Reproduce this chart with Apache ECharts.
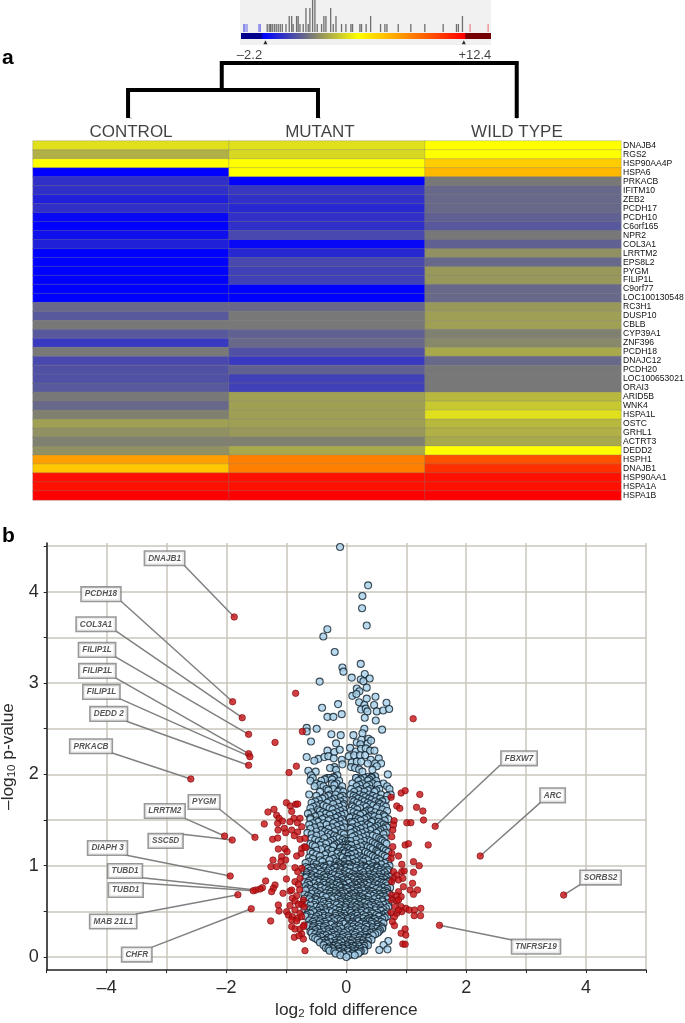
<!DOCTYPE html>
<html>
<head>
<meta charset="utf-8">
<title>Heat map and volcano plot</title>
<script src="https://cdn.jsdelivr.net/npm/echarts@6/dist/echarts.min.js"></script>
<style>
    html, body { margin: 0; padding: 0; background: #fff; }
    #chart { width: 685px; height: 1023px; }
</style>
</head>
<body>
<div id="chart"></div>
<script>
// --- panel a: histogram above the colour scale ---
const histValues = [-3.8, -3.71, -3.56, -2.68, -2.58, -2.07, -1.92, -1.82, -1.7, -1.55, -1.41, -1.26, -1.11, -0.96,
    -0.69, -0.45, -0.27, -0.16, 0.09, 0.21, 0.34, 0.58, 0.78, 0.95, 1.07, 1.27, 1.44, 1.61, 1.93, 2.1, 2.25, 2.6,
    2.79, 2.99, 3.4, 3.72, 4.09, 4.21, 4.75, 4.87, 5.21, 5.54, 6.27, 6.59, 6.74, 7.57, 8.5, 9.53, 10.88, 11.86, 12,
    12.3, 12.86, 14.19];
const histCounts = [1, 1, 1, 1, 1, 1, 1, 1, 1, 1, 1, 1, 1, 1,
    1, 2, 2, 1, 2, 2, 1, 1, 3, 1, 3, 4, 5, 1, 1, 2, 2, 3,
    1, 2, 1, 1, 1, 1, 1, 1, 1, 2, 1, 1, 1, 1, 1, 1, 1, 1, 1,
    2, 1, 1];
const scaleRange = [-4, 14.4];
const scaleThresholds = [-2.2, 12.4];
const scaleThresholdLabels = ["–2.2", "+12.4"];

// --- panel a: dendrogram ---
const dendroInner = [[0.485, 0], [0.485, 0.51], [1.454, 0.51], [1.454, 0]];
const dendroOuter = [[0.963, 0.51], [0.963, 1], [2.468, 1], [2.468, 0]];
const groupNames = ["CONTROL", "MUTANT", "WILD TYPE"];
const groupNamePlaces = [0.5, 1.464, 2.469];

// --- panel a: heat map ---
const genes = ["DNAJB4", "RGS2", "HSP90AA4P", "HSPA6", "PRKACB", "IFITM10", "ZEB2", "PCDH17", "PCDH10", "C6orf165",
    "NPR2", "COL3A1", "LRRTM2", "EPS8L2", "PYGM", "FILIP1L", "C9orf77", "LOC100130548", "RC3H1", "DUSP10",
    "CBLB", "CYP39A1", "ZNF396", "PCDH18", "DNAJC12", "PCDH20", "LOC100653021", "ORAI3", "ARID5B", "WNK4",
    "HSPA1L", "OSTC", "GRHL1", "ACTRT3", "DEDD2", "HSPH1", "DNAJB1", "HSP90AA1", "HSPA1A", "HSPA1B"];
const controlValues = [4.26, 2.96, 5.1, -2.2, -0.74, -0.74, -1.23, -0.74, -1.96, -2.2,
    -1.71, -1.23, -2.2, -2.2, -2.2, -2.2, -2.2, -2.2, 0.96, 0.48,
    1.45, 0.48, -0.5, 1.45, -0.01, 0.23, 0.23, 0.48, 1.45, 0.96,
    1.67, 2.53, 2.1, 1.67, 2.1, 7.83, 6.68, 11.94, 11.94, 12.4];
const mutantValues = [4.26, 4.05, 5.1, 5.1, -2.2, -0.5, -0.74, -0.98, -0.74, -0.74,
    -0.01, -1.96, -0.98, -0.01, -0.25, -0.25, -2.2, -2.2, 0.96, 1.45,
    1.45, 0.72, 0.96, 0.23, -0.5, 0.72, -0.25, -0.25, 2.53, 2.53,
    2.53, 2.53, 2.32, 1.67, 2.75, 8.75, 8.75, 11.94, 11.94, 12.4];
const wildTypeValues = [5.1, 5.1, 6.57, 7.14, 1.45, 0.96, 0.96, 0.96, 0.72, 0.48,
    1.45, 0.72, 2.1, 0.96, 2.32, 2.32, 0.96, 0.96, 2.32, 2.53,
    2.53, 1.67, 1.88, 2.75, 0.96, 1.45, 1.45, 1.45, 3.18, 3.61,
    4.26, 3.18, 2.96, 2.75, 5.1, 10.12, 11.03, 11.94, 11.94, 12.4];

// --- panel b: the scattered blue points above the dense part, [log2 fold, -log10 p] ---
const blueSparse = [[-0.105, 4.49], [0.363, 4.07], [0.268, 3.954], [0.262, 3.82], [0.34, 3.63], [-0.317, 3.59], [-0.384, 3.51],
    [-0.194, 3.34], [-0.066, 3.17], [-0.049, 3.125], [0.24, 3.21], [0.09, 3.06], [0.307, 3.1], [0.24, 3.04], [0.285, 3.02],
    [0.39, 3.05], [-0.445, 3.016], [0.174, 2.94], [0.218, 2.91], [0.34, 2.95], [0.1, 2.86], [0.168, 2.88], [0.486, 2.85],
    [0.34, 2.83], [-0.138, 2.77], [0.213, 2.79], [0.463, 2.76], [0.67, 2.785], [0.3, 2.76], [-0.405, 2.73], [0.246, 2.71],
    [0.324, 2.72], [0.352, 2.69], [0.508, 2.69], [0.614, 2.7], [0.714, 2.716], [-0.077, 2.66], [-0.316, 2.63], [-0.216, 2.63],
    [0.307, 2.62], [0.491, 2.59], [-0.662, 2.51], [-0.662, 2.47], [-0.495, 2.5], [0.3, 2.5], [0.597, 2.49], [-0.25, 2.44],
    [-0.094, 2.43], [0.118, 2.43], [0.268, 2.45], [-0.59, 2.36], [-0.172, 2.34], [0.174, 2.35], [0.252, 2.38], [0.369, 2.39],
    [0.235, 2.33], [0.357, 2.34], [0.413, 2.37], [-0.316, 2.26], [-0.2, 2.245], [-0.11, 2.27], [0.062, 2.29], [0.157, 2.25],
    [0.246, 2.28], [0.324, 2.285], [0.396, 2.26], [0.469, 2.26], [0.04, 2.2], [0.129, 2.21], [0.229, 2.21], [0.313, 2.21],
    [-0.662, 2.19], [-0.467, 2.17], [-0.534, 2.15], [-0.367, 2.19], [-0.3, 2.2], [-0.211, 2.176], [-0.077, 2.16], [-0.066, 2.11],
    [0.408, 2.16], [0.541, 2.176], [0.09, 2.13], [0.174, 2.14], [0.246, 2.14], [0.357, 2.12], [0.48, 2.12], [0.58, 2.12],
    [0.508, 2.09], [-0.2, 2.08], [-0.272, 2.07], [-0.172, 2.05], [0.079, 2.08], [0.146, 2.07], [0.213, 2.055], [0.435, 2.05],
    [0.692, 2], [-0.634, 2.04], [-0.511, 2.03], [-0.589, 1.99], [-0.15, 1.99], [0.174, 1.96], [0.369, 1.975], [0.48, 1.98],
    [-0.322, 1.96], [-0.216, 1.97], [0.268, 2.03], [0.424, 1.97], [0.7, 0.176], [0.62, 0.132], [0.55, 0.077], [0.686, 0.084]];

// --- panel b: the dense blue cloud, one row per -log10 p level: [p, fold, fold, ...] ---
const blueRows = [
    [1.96, -0.56, -0.28, -0.2, 0.16, 0.3, 0.42],
    [1.945, -0.36, -0.24, 0.24, 0.38],
    [1.93, -0.6, -0.42, -0.12, 0.2, 0.36, 0.5],
    [1.9, -0.5, -0.24, -0.16, 0.1, 0.27, 0.44, 0.62],
    [1.885, -0.44, -0.2, 0.22, 0.38, 0.52],
    [1.87, -0.53, -0.38, -0.07, 0.17, 0.34, 0.68],
    [1.84, -0.33, -0.22, 0.08, 0.24, 0.4, 0.55, 0.72],
    [1.825, -0.3, -0.1, 0.2, 0.36, 0.5],
    [1.81, -0.44, -0.14, -0.05, 0.13, 0.3, 0.47],
    [1.78, -0.62, -0.27, -0.18, 0.07, 0.22, 0.38, 0.58, 0.74],
    [1.765, -0.5, -0.3, -0.06, 0.12, 0.28, 0.44, 0.68],
    [1.75, -0.36, -0.1, 0.16, 0.32, 0.5],
    [1.735, -0.4, -0.2, 0.2, 0.38, 0.56],
    [1.72, -0.46, -0.24, -0.04, 0.1, 0.26, 0.42, 0.66],
    [1.705, -0.52, -0.28, -0.1, 0.13, 0.3, 0.48, 0.6],
    [1.69, -0.58, -0.32, -0.15, 0.18, 0.36, 0.54],
    [1.675, -0.43, -0.22, -0.04, 0.22, 0.4, 0.56],
    [1.66, -0.5, -0.38, -0.06, 0.09, 0.29, 0.45, 0.62],
    [1.645, -0.55, -0.33, -0.12, 0.1, 0.33, 0.52, 0.66],
    [1.63, -0.6, -0.28, -0.18, 0.14, 0.23, 0.5],
    [1.615, -0.47, -0.23, -0.05, 0.18, 0.38, 0.6],
    [1.6, -0.44, -0.1, 0.07, 0.34, 0.41, 0.68],
    [1.585, -0.58, -0.39, -0.16, 0.12, 0.31, 0.48],
    [1.57, -0.64, -0.34, -0.22, -0.03, 0.18, 0.28, 0.56],
    [1.555, -0.44, -0.28, -0.08, 0.23, 0.42, 0.62],
    [1.54, -0.52, -0.14, 0.1, 0.38, 0.47, 0.64],
    [1.525, -0.6, -0.36, -0.18, 0.06, 0.16, 0.34, 0.54],
    [1.51, -0.6, -0.4, -0.26, -0.07, 0.2, 0.3, 0.7],
    [1.495, -0.5, -0.3, -0.1, 0.24, 0.46, 0.64],
    [1.48, -0.47, -0.18, 0.08, 0.14, 0.42, 0.54],
    [1.465, -0.56, -0.38, -0.22, -0.04, 0.1, 0.32, 0.58],
    [1.45, -0.62, -0.33, -0.11, 0.25, 0.36, 0.62],
    [1.435, -0.44, -0.16, 0.18, 0.4, 0.52, 0.66],
    [1.42, -0.53, -0.24, -0.03, 0.1, 0.3, 0.48, 0.68],
    [1.405, -0.6, -0.3, -0.08, 0.07, 0.24, 0.44, 0.62],
    [1.39, -0.42, -0.15, 0.17, 0.4, 0.57],
    [1.375, -0.5, -0.36, -0.2, 0.13, 0.32, 0.54],
    [1.36, -0.65, -0.3, -0.08, 0.08, 0.26, 0.5, 0.66],
    [1.345, -0.58, -0.42, -0.26, -0.04, 0.2, 0.4, 0.62],
    [1.33, -0.5, -0.2, 0.14, 0.34, 0.44],
    [1.315, -0.32, -0.16, 0.1, 0.28, 0.5],
    [1.3, -0.58, -0.37, -0.12, -0.03, 0.22, 0.55, 0.64],
    [1.285, -0.52, -0.22, -0.06, 0.16, 0.36, 0.58],
    [1.27, -0.46, -0.26, -0.01, 0.03, 0.07, 0.3, 0.4, 0.6],
    [1.255, -0.4, -0.3, -0.12, 0.24, 0.44, 0.64],
    [1.24, -0.6, -0.34, -0.16, 0.02, 0.16, 0.48, 0.67],
    [1.225, -0.56, -0.44, -0.2, -0.04, 0.04, 0.08, 0.3, 0.52],
    [1.21, -0.52, -0.22, -0.08, 0.24, 0.36, 0.56],
    [1.195, -0.36, -0.1, -0.02, 0.03, 0.18, 0.4, 0.58],
    [1.18, -0.42, -0.3, 0.06, 0.12, 0.44, 0.62],
    [1.165, -0.5, -0.24, -0.06, 0.1, 0.26, 0.5, 0.66],
    [1.15, -0.6, -0.14, -0.02, 0.2, 0.32, 0.52, 0.7],
    [1.135, -0.56, -0.32, -0.16, -0.03, 0.04, 0.14, 0.36, 0.54],
    [1.12, -0.5, -0.36, -0.24, 0.08, 0.4, 0.6],
    [1.105, -0.44, -0.1, 0.02, 0.22, 0.44, 0.64],
    [1.09, -0.62, -0.18, -0.06, 0.16, 0.28, 0.48, 0.68],
    [1.075, -0.56, -0.34, -0.22, 0, 0.05, 0.1, 0.32, 0.52],
    [1.06, -0.44, -0.28, 0.02, 0.22, 0.36, 0.56],
    [1.045, -0.62, -0.4, -0.16, -0.04, 0.16, 0.28, 0.5, 0.7],
    [1.03, -0.68, -0.54, -0.12, 0.1, 0.44, 0.64],
    [1.015, -0.5, -0.28, -0.1, -0.02, 0.06, 0.04, 0.24, 0.38, 0.58],
    [1, -0.36, -0.2, -0.04, 0.18, 0.3, 0.5, 0.72],
    [0.993, -0.42, -0.14, 0.08, 0.26, 0.44],
    [0.985, -0.68, -0.54, -0.38, -0.18, -0.02, 0.12, 0.32, 0.5, 0.66],
    [0.977, -0.58, -0.34, -0.18, 0, 0.16, 0.34, 0.52],
    [0.97, -0.64, -0.48, -0.28, -0.1, 0.06, 0.24, 0.4, 0.58],
    [0.955, -0.46, -0.24, -0.08, 0.2, 0.38, 0.56, 0.7],
    [0.948, -0.6, -0.3, -0.02, 0.24, 0.44, 0.62],
    [0.94, -0.7, -0.54, -0.38, -0.16, 0, 0.14, 0.32, 0.5, 0.68],
    [0.932, -0.42, -0.18, 0.06, 0.36, 0.56],
    [0.925, -0.66, -0.52, -0.32, -0.12, 0.04, 0.28, 0.48, 0.64],
    [0.91, -0.6, -0.44, -0.24, -0.06, 0.1, 0.22, 0.42, 0.6],
    [0.903, -0.66, -0.34, -0.12, 0.18, 0.38, 0.54],
    [0.895, -0.56, -0.38, -0.2, -0.02, 0.14, 0.3, 0.46, 0.68],
    [0.88, -0.66, -0.5, -0.32, -0.14, 0.04, 0.18, 0.36, 0.54, 0.72],
    [0.872, -0.58, -0.36, -0.04, 0.13, 0.3, 0.48, 0.66],
    [0.865, -0.68, -0.44, -0.26, -0.08, 0.08, 0.24, 0.42, 0.6],
    [0.85, -0.56, -0.4, -0.2, -0.02, 0.12, 0.28, 0.46, 0.64],
    [0.843, -0.46, -0.24, -0.06, 0.22, 0.4, 0.58],
    [0.835, -0.62, -0.5, -0.34, -0.14, 0.02, 0.18, 0.36, 0.52, 0.72],
    [0.82, -0.7, -0.46, -0.28, -0.1, 0.08, 0.24, 0.4, 0.58, 0.7],
    [0.812, -0.64, -0.38, -0.14, 0.04, 0.2, 0.36, 0.62],
    [0.805, -0.54, -0.24, -0.06, 0.14, 0.3, 0.48, 0.66],
    [0.79, -0.62, -0.36, -0.18, -0.04, 0.16, 0.32, 0.52],
    [0.783, -0.48, -0.26, -0.1, 0.1, 0.24, 0.44, 0.68],
    [0.775, -0.68, -0.44, -0.3, -0.12, 0.08, 0.26, 0.38, 0.58],
    [0.76, -0.52, -0.42, -0.24, -0.08, 0.02, 0.2, 0.44, 0.62, 0.73],
    [0.752, -0.64, -0.32, -0.02, 0.12, 0.28, 0.54],
    [0.745, -0.6, -0.36, -0.18, 0, 0.16, 0.34, 0.5, 0.68],
    [0.73, -0.68, -0.56, -0.3, -0.14, 0.1, 0.28, 0.38, 0.56],
    [0.722, -0.44, -0.2, -0.04, 0.18, 0.4, 0.66],
    [0.715, -0.52, -0.26, -0.08, 0.04, 0.22, 0.44, 0.62],
    [0.7, -0.48, -0.34, -0.2, -0.03, 0.14, 0.34, 0.5, 0.68],
    [0.693, -0.58, -0.28, -0.08, 0.08, 0.24, 0.46, 0.62],
    [0.685, -0.7, -0.44, -0.14, 0.1, 0.3, 0.4, 0.56, 0.72],
    [0.67, -0.64, -0.4, -0.26, -0.1, 0.06, 0.22, 0.44, 0.62],
    [0.662, -0.5, -0.3, -0.14, 0.02, 0.18, 0.36, 0.58],
    [0.655, -0.6, -0.34, -0.2, -0.04, 0.14, 0.26, 0.5, 0.66],
    [0.64, -0.7, -0.52, -0.16, 0, 0.18, 0.3, 0.54, 0.72],
    [0.632, -0.62, -0.24, -0.06, 0.12, 0.28, 0.46, 0.68],
    [0.625, -0.5, -0.4, -0.1, 0.06, 0.22, 0.36, 0.6],
    [0.61, -0.58, -0.44, -0.3, -0.06, 0.1, 0.26, 0.4, 0.6],
    [0.602, -0.38, -0.1, 0.06, 0.22, 0.34, 0.52],
    [0.595, -0.7, -0.52, -0.28, -0.16, 0, 0.14, 0.3, 0.44, 0.7],
    [0.58, -0.66, -0.36, -0.22, -0.12, 0.04, 0.2, 0.36, 0.5, 0.66],
    [0.572, -0.54, -0.3, -0.16, 0, 0.18, 0.44, 0.62],
    [0.565, -0.6, -0.42, -0.08, 0.1, 0.24, 0.4, 0.56],
    [0.55, -0.5, -0.28, -0.02, 0.14, 0.3, 0.46, 0.7],
    [0.542, -0.44, -0.12, 0.08, 0.24, 0.38, 0.58],
    [0.535, -0.66, -0.36, -0.22, -0.02, 0.18, 0.32, 0.5, 0.66],
    [0.52, -0.7, -0.6, -0.42, -0.18, -0.08, 0.08, 0.24, 0.56, 0.62],
    [0.512, -0.56, -0.34, -0.02, 0.14, 0.3, 0.48],
    [0.505, -0.48, -0.28, -0.12, 0.06, 0.26, 0.38, 0.58],
    [0.49, -0.54, -0.34, -0.24, 0.02, 0.18, 0.34, 0.42, 0.68],
    [0.482, -0.64, -0.44, -0.1, 0.08, 0.24, 0.52],
    [0.475, -0.6, -0.4, -0.18, -0.04, 0.16, 0.44, 0.64],
    [0.46, -0.66, -0.46, -0.12, 0.12, 0.28, 0.5, 0.6],
    [0.452, -0.36, -0.18, -0.02, 0.18, 0.38, 0.56],
    [0.445, -0.68, -0.5, -0.3, -0.08, 0.08, 0.32, 0.54, 0.68],
    [0.43, -0.58, -0.38, -0.2, -0.04, 0.06, 0.22, 0.4, 0.64],
    [0.422, -0.52, -0.3, -0.08, 0.12, 0.28, 0.46],
    [0.415, -0.44, -0.24, -0.14, 0.02, 0.18, 0.36, 0.48, 0.6],
    [0.4, -0.62, -0.5, -0.3, -0.1, 0.16, 0.34, 0.54],
    [0.392, -0.44, -0.2, 0.02, 0.2, 0.38, 0.5],
    [0.385, -0.56, -0.36, -0.06, 0.1, 0.28, 0.42, 0.58],
    [0.37, -0.42, -0.24, -0.02, 0.1, 0.26, 0.46, 0.62],
    [0.362, -0.54, -0.34, -0.04, 0.08, 0.24, 0.42],
    [0.355, -0.62, -0.46, -0.26, -0.12, 0.14, 0.32, 0.52],
    [0.34, -0.64, -0.54, -0.34, -0.16, 0.04, 0.2, 0.38, 0.56],
    [0.332, -0.44, -0.12, 0.1, 0.34, 0.52],
    [0.325, -0.56, -0.38, -0.2, 0.02, 0.24, 0.44, 0.6],
    [0.31, -0.48, -0.28, -0.08, 0.14, 0.3, 0.5, 0.6],
    [0.302, -0.56, -0.38, -0.18, 0.04, 0.2, 0.42],
    [0.295, -0.52, -0.32, -0.14, 0.08, 0.34, 0.56],
    [0.28, -0.6, -0.38, -0.2, 0, 0.22, 0.42, 0.54],
    [0.272, -0.5, -0.3, -0.1, 0.12, 0.32, 0.46],
    [0.265, -0.58, -0.44, -0.24, -0.04, 0.16, 0.4, 0.52],
    [0.25, -0.52, -0.3, -0.12, 0.08, 0.28, 0.36, 0.48],
    [0.242, -0.4, -0.2, -0.06, 0.14, 0.32],
    [0.235, -0.46, -0.34, -0.16, 0.02, 0.24, 0.44],
    [0.22, -0.56, -0.42, -0.22, -0.04, 0.16, 0.34],
    [0.212, -0.48, -0.3, -0.12, 0.04, 0.22, 0.36],
    [0.205, -0.52, -0.26, -0.08, 0.12, 0.3, 0.38],
    [0.19, -0.48, -0.34, -0.14, 0.06, 0.24, 0.42],
    [0.182, -0.36, -0.1, 0.1, 0.28],
    [0.175, -0.4, -0.2, -0.02, 0.18, 0.36],
    [0.16, -0.44, -0.26, -0.08, 0.12, 0.3],
    [0.152, -0.36, -0.18, 0.04, 0.2],
    [0.145, -0.32, -0.12, 0.08, 0.26, 0.34],
    [0.13, -0.38, -0.18, 0, 0.2, 0.36],
    [0.122, -0.22, -0.06, 0.1, 0.3],
    [0.115, -0.28, -0.14, 0.02, 0.14, 0.22],
    [0.1, -0.34, -0.24, -0.06, 0.08, 0.28],
    [0.092, -0.3, -0.12, 0.02, 0.18],
    [0.085, -0.22, -0.04, 0.12, 0.24],
    [0.07, -0.28, -0.14, 0.02, 0.16, 0.3],
    [0.062, -0.2, -0.08, 0.1, 0.24],
    [0.055, -0.12, 0.04, 0.22],
    [0.04, -0.18, -0.06, 0.1, 0.2],
    [0.03, -0.04, 0.1],
    [0.02, -0.1, 0.04, 0.14],
    [0, 0]
];

// --- panel b: the red points without a call-out ---
const redPoints = [[1.115, 2.61], [-0.846, 2.888], [-0.734, 2.47], [-1.19, 2.35], [-0.834, 2.09], [-0.957, 2.02],
    [-1, 1.69], [-0.935, 1.654], [-0.846, 1.672], [-0.812, 1.676], [-1.207, 1.617], [-1.308, 1.588], [-0.912, 1.595],
    [-1.163, 1.552], [-1.124, 1.519], [-1.068, 1.49], [-1.146, 1.464], [-0.873, 1.519], [-0.773, 1.519], [-0.94, 1.482],
    [-0.818, 1.471], [-0.745, 1.427], [-1.37, 1.457], [-1.14, 1.39], [-1.035, 1.409], [-1.013, 1.362], [-0.912, 1.39],
    [-0.812, 1.369], [-0.868, 1.329], [-1.23, 1.289], [-1.146, 1.303], [-0.773, 1.289], [-0.69, 1.3], [-1.135, 1.183],
    [-1.024, 1.186], [-0.99, 1.154], [-0.7, 1.208], [-0.745, 1.186], [-0.68, 1.2], [-0.756, 1.135], [-0.829, 1.106],
    [-1.224, 1.062], [-1.08, 1.099], [-1.013, 1.062], [-1.09, 1.048], [-1.258, 0.99], [-1.163, 0.99], [-1.057, 0.99],
    [-0.857, 0.979], [-0.745, 0.971], [-0.812, 0.935], [-0.773, 0.862], [-0.857, 0.825], [-0.801, 0.796], [-1, 0.855],
    [-1.19, 0.789], [-1.219, 0.752], [-1.247, 0.716], [-1.347, 0.833], [-1.057, 0.698], [-0.94, 0.723], [-0.912, 0.734],
    [-0.779, 0.738], [-0.829, 0.672], [-0.901, 0.643], [-0.717, 0.625], [-0.857, 0.614], [-0.801, 0.577], [-0.94, 0.563],
    [-0.745, 0.577], [-0.706, 0.552], [-1.135, 0.57], [-1.124, 0.504], [-0.996, 0.497], [-0.968, 0.46], [-0.857, 0.515],
    [-0.773, 0.479], [-0.901, 0.442], [-0.812, 0.424], [-0.912, 0.406], [-0.829, 0.395], [-0.745, 0.442], [-1.263, 0.395],
    [-0.706, 0.351], [-0.912, 0.333], [-0.857, 0.307], [-0.773, 0.307], [-0.717, 0.333], [-0.745, 0.252], [-0.868, 0.216],
    [-0.79, 0.234], [-0.717, 0.197], [-0.69, 0.07], [-1.4, 0.76], [-1.44, 0.745],
    [0.914, 1.796], [0.981, 1.822], [1.226, 1.781], [0.747, 1.749], [0.842, 1.654], [0.892, 1.628], [1.171, 1.639],
    [1.277, 1.599], [1.288, 1.5], [0.797, 1.493], [1.009, 1.471], [1.076, 1.471], [0.786, 1.446], [0.775, 1.391],
    [0.758, 1.318], [0.981, 1.227], [1.037, 1.241], [1.366, 1.227], [0.775, 1.208], [0.758, 1.135], [0.87, 1.106],
    [0.747, 1.08], [1.12, 1.044], [0.925, 1.015], [1.215, 1], [0.786, 0.935], [0.842, 0.898], [0.925, 0.935], [0.964, 0.942],
    [0.786, 0.862], [0.87, 0.844], [0.942, 0.862], [1.12, 0.928], [1.104, 0.807], [1.065, 0.734], [1.187, 0.734],
    [1.12, 0.687], [0.953, 0.771], [0.758, 0.825], [0.87, 0.716], [0.758, 0.68], [0.842, 0.672], [0.914, 0.661],
    [0.758, 0.625], [0.842, 0.614], [0.914, 0.552], [0.992, 0.533], [1.048, 0.515], [1.137, 0.515], [1.243, 0.533],
    [1.132, 0.453], [1.238, 0.453], [0.925, 0.497], [0.842, 0.479], [0.803, 0.442], [0.747, 0.486], [0.77, 0.387],
    [0.803, 0.344], [0.981, 0.307], [0.914, 0.26], [0.992, 0.241], [0.942, 0.143], [0.981, 0.139], [0.87, 0.625],
    [0.814, 0.552], [0.87, 0.515]];

// --- panel b: the named genes ---
const calloutNames = ["DNAJB1", "PCDH18", "COL3A1", "FILIP1L", "FILIP1L", "FILIP1L", "DEDD 2", "PRKACB", "PYGM", "LRRTM2",
    "SSC5D", "DIAPH 3", "TUBD1", "TUBD1", "MAB 21L1", "CHFR", "FBXW7", "ARC", "SORBS2", "TNFRSF19"];
const calloutPoints = [[-1.871, 3.724], [-1.898, 2.796], [-1.738, 2.621], [-1.631, 2.439], [-1.631, 2.227], [-1.609, 2.194],
    [-1.631, 2.1], [-2.595, 1.95], [-1.525, 1.311], [-2.032, 1.325], [-1.905, 1.281], [-1.938, 0.887], [-1.509, 0.734],
    [-1.554, 0.726], [-1.81, 0.682], [-1.587, 0.529], [1.482, 1.432], [2.234, 1.106], [3.626, 0.679], [1.554, 0.347]];
// where each label box sits and where its leader leaves the box, in the same axis units
const calloutBoxes = [[-3.033, 4.367], [-4.094, 3.974], [-4.177, 3.644], [-4.16, 3.363], [-4.154, 3.133], [-4.087, 2.903],
    [-3.965, 2.662], [-4.261, 2.308], [-2.373, 1.698], [-3.029, 1.599], [-3.016, 1.271], [-3.985, 1.194], [-3.693, 0.942],
    [-3.681, 0.734], [-3.89, 0.389], [-3.497, 0.027], [2.882, 2.176], [3.442, 1.771], [4.242, 0.87], [3.165, 0.113]];
const calloutStarts = [[-2.712, 4.293], [-3.764, 3.899], [-3.848, 3.571], [-3.86, 3.289], [-3.86, 3.059], [-3.793, 2.833],
    [-3.681, 2.585], [-3.92, 2.238], [-2.122, 1.621], [-2.695, 1.519], [-2.733, 1.344], [-3.686, 1.117], [-3.409, 0.869],
    [-3.392, 0.807], [-3.514, 0.471], [-3.251, 0.106], [2.568, 2.103], [3.241, 1.694], [3.905, 0.796], [2.769, 0.186]];

const xTicks = [-4, -2, 0, 2, 4];
const yLabelTicks = [0, 1, 2, 3, 4];
const yGridTicks = [0, 0.5, 1, 1.5, 2, 2.5, 3, 3.5, 4, 4.5];

const fontName = "Liberation Sans";
const colorText = "#2b2b2b";
const colorGrid = "#c9c6bc";
const colorLeader = "#808080";

const heatRows = [];
[controlValues, mutantValues, wildTypeValues].forEach((values, col) => {
    values.forEach((value, row) => heatRows.push([col, row, value]));
});

const bluePoints = blueSparse.slice();
blueRows.forEach(row => {
    row.slice(1).forEach(fold => bluePoints.push([fold, row[0]]));
});

const leaderSeries = calloutNames.map((name, i) => ({
    name: "leader " + name,
    type: "line",
    xAxisIndex: 4,
    yAxisIndex: 4,
    data: [calloutStarts[i], calloutPoints[i]],
    showSymbol: false,
    symbol: "none",
    silent: true,
    z: 4,
    lineStyle: { color: colorLeader, width: 1.5 }
}));

function hiddenAxis(gridIndex, min, max) {
    return { type: "value", gridIndex: gridIndex, min: min, max: max, show: false };
}

const chart = echarts.init(document.getElementById("chart"));
chart.setOption({
    animation: false,
    backgroundColor: "#ffffff",
    textStyle: { fontFamily: fontName },
    title: [
        { text: "a", left: -3, top: 43, textStyle: { fontFamily: fontName, fontSize: 21, fontWeight: "bold", color: "#000" } },
        { text: "b", left: -3, top: 521, textStyle: { fontFamily: fontName, fontSize: 21, fontWeight: "bold", color: "#000" } }
    ],
    graphic: [
        { type: "rect", z: -10, shape: { x: 240, y: 0, width: 251, height: 45 }, style: { fill: "#f1f1f1" } }
    ],
    grid: [
        { left: 241, top: 0, width: 250, height: 32, outerBoundsMode: "none" },
        { left: 241, top: 33, width: 250, height: 11, outerBoundsMode: "none" },
        { left: 33, top: 63, width: 588, height: 55, outerBoundsMode: "none" },
        { left: 33, top: 141, width: 588, height: 359, outerBoundsMode: "none" },
        { left: 46.7, top: 543, width: 599.3, height: 427, outerBoundsMode: "none" }
    ],
    xAxis: [
        hiddenAxis(0, scaleRange[0], scaleRange[1]),
        hiddenAxis(1, scaleRange[0], scaleRange[1]),
        hiddenAxis(2, 0, 3),
        { type: "category", gridIndex: 3, data: groupNames, show: false },
        {
            type: "value",
            gridIndex: 4,
            min: -5,
            max: 5,
            interval: 1,
            name: "log{s|2} fold difference",
            nameLocation: "middle",
            nameGap: 31,
            nameTextStyle: {
                fontSize: 17.3,
                color: colorText,
                rich: { s: { fontSize: 11.5, verticalAlign: "bottom", padding: [7, 0, 0, 0], color: colorText } }
            },
            axisLine: { onZero: false, lineStyle: { color: "#222", width: 1.5 } },
            axisTick: { length: 3, lineStyle: { color: "#222" } },
            axisLabel: {
                fontSize: 18,
                color: colorText,
                margin: 9,
                formatter: value => xTicks.includes(value) ? String(value).replace("-", "–") : ""
            },
            splitLine: { show: true, lineStyle: { color: colorGrid, width: 1.5 } }
        }
    ],
    yAxis: [
        hiddenAxis(0, 0, 4),
        hiddenAxis(1, 0, 1),
        hiddenAxis(2, 0, 1),
        {
            type: "category",
            gridIndex: 3,
            data: genes,
            inverse: true,
            position: "right",
            axisLine: { show: false },
            axisTick: { show: false },
            axisLabel: { fontSize: 8.6, color: "#111", margin: 2, interval: 0 }
        },
        {
            type: "value",
            gridIndex: 4,
            min: -0.142,
            max: 4.534,
            name: "–log{s|10} p-value",
            nameLocation: "middle",
            nameGap: 26,
            nameTextStyle: {
                fontSize: 17.3,
                color: colorText,
                rich: { s: { fontSize: 11.5, verticalAlign: "bottom", padding: [7, 0, 0, 0], color: colorText } }
            },
            axisLine: { onZero: false, lineStyle: { color: "#222", width: 1.5 } },
            axisTick: { length: 3, lineStyle: { color: "#222" }, customValues: yGridTicks },
            axisLabel: { fontSize: 18, color: colorText, margin: 8, customValues: yLabelTicks },
            splitLine: { show: true, lineStyle: { color: colorGrid, width: 1.5 } }
        }
    ],
    visualMap: {
        show: false,
        seriesIndex: 6,
        min: scaleThresholds[0],
        max: scaleThresholds[1],
        inRange: { color: ["#0000ff", "#787878", "#ffff00", "#ff8000", "#ff0000"] }
    },
    series: [
        {
            name: "histogram",
            type: "bar",
            xAxisIndex: 0,
            yAxisIndex: 0,
            barWidth: 1.3,
            silent: true,
            data: histValues.map((value, i) => [value, histCounts[i]]),
            itemStyle: {
                color: params => {
                    const value = params.value[0];
                    if (value < scaleThresholds[0]) return "rgba(70,70,230,0.65)";
                    if (value > scaleThresholds[1]) return "rgba(235,70,70,0.6)";
                    return "rgba(30,30,30,0.62)";
                }
            }
        },
        {
            name: "colour scale",
            type: "line",
            xAxisIndex: 1,
            yAxisIndex: 1,
            data: [[scaleRange[0], 0.73], [scaleRange[1], 0.73]],
            symbol: "none",
            silent: true,
            lineStyle: {
                width: 6,
                cap: "butt",
                color: new echarts.graphic.LinearGradient(0, 0, 1, 0, [
                    { offset: 0, color: "#00008c" },
                    { offset: 0.09, color: "#000090" },
                    { offset: 0.1, color: "#0000ff" },
                    { offset: 0.285, color: "#787878" },
                    { offset: 0.47, color: "#ffff00" },
                    { offset: 0.885, color: "#ff0000" },
                    { offset: 0.89, color: "#7a0000" },
                    { offset: 1, color: "#700000" }
                ])
            }
        },
        {
            name: "thresholds",
            type: "scatter",
            xAxisIndex: 1,
            yAxisIndex: 1,
            symbol: "triangle",
            symbolSize: 4,
            itemStyle: { color: "#000" },
            silent: true,
            data: scaleThresholds.map((value, i) => ({
                value: [value, 0.16],
                label: {
                    show: true,
                    position: "bottom",
                    distance: 5,
                    offset: [i === 0 ? -16 : 11, 0],
                    formatter: scaleThresholdLabels[i],
                    fontSize: 13,
                    color: "#111"
                }
            }))
        },
        {
            name: "dendrogram inner",
            type: "line",
            xAxisIndex: 2,
            yAxisIndex: 2,
            data: dendroInner,
            symbol: "none",
            silent: true,
            lineStyle: { color: "#000", width: 4, join: "miter", cap: "butt" }
        },
        {
            name: "dendrogram outer",
            type: "line",
            xAxisIndex: 2,
            yAxisIndex: 2,
            data: dendroOuter,
            symbol: "none",
            silent: true,
            lineStyle: { color: "#000", width: 4, join: "miter", cap: "butt" }
        },
        {
            name: "groups",
            type: "scatter",
            xAxisIndex: 2,
            yAxisIndex: 2,
            symbolSize: 1,
            itemStyle: { color: "#000" },
            silent: true,
            data: groupNames.map((name, i) => ({
                value: [groupNamePlaces[i], 0],
                label: { show: true, position: "bottom", distance: 5, formatter: name, fontSize: 17, color: "#111" }
            }))
        },
        {
            name: "expression",
            type: "heatmap",
            xAxisIndex: 3,
            yAxisIndex: 3,
            data: heatRows,
            silent: true,
            itemStyle: { borderColor: "rgba(130,130,130,0.55)", borderWidth: 0.6 }
        },
        {
            name: "not significant",
            type: "scatter",
            xAxisIndex: 4,
            yAxisIndex: 4,
            data: bluePoints,
            symbolSize: 7,
            silent: true,
            large: false,
            z: 3,
            itemStyle: { color: "#a6cfea", borderColor: "#10202c", borderWidth: 1.1 }
        },
        {
            name: "significant",
            type: "scatter",
            xAxisIndex: 4,
            yAxisIndex: 4,
            data: redPoints.concat(calloutPoints),
            symbolSize: 6.5,
            silent: true,
            z: 5,
            itemStyle: { color: "#c40f12", borderColor: "#7a0a0c", borderWidth: 0.8 }
        },
        {
            name: "call-outs",
            type: "scatter",
            xAxisIndex: 4,
            yAxisIndex: 4,
            symbolSize: 1,
            silent: true,
            z: 6,
            itemStyle: { color: "#ffffff" },
            data: calloutNames.map((name, i) => ({
                value: calloutBoxes[i],
                label: {
                    show: true,
                    position: "inside",
                    formatter: name,
                    fontSize: 8.2,
                    fontStyle: "italic",
                    fontWeight: "bold",
                    color: "#2a2a2a",
                    backgroundColor: "#ffffff",
                    borderColor: colorLeader,
                    borderWidth: 1.6,
                    padding: [3, 3, 2, 3]
                }
            }))
        }
    ].concat(leaderSeries)
});
</script>
</body>
</html>
